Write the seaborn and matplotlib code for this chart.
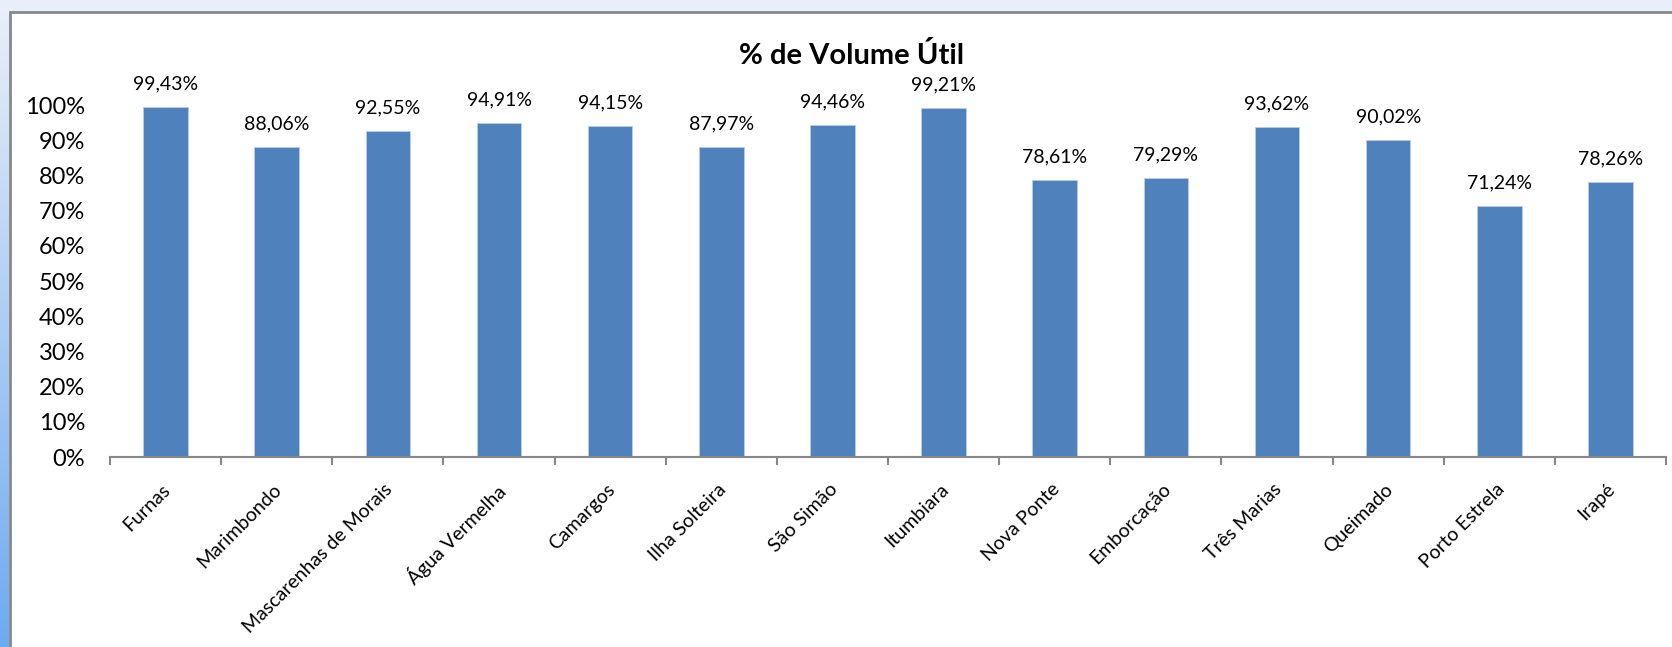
import numpy as np
import pandas as pd
import matplotlib
matplotlib.use("Agg")
import matplotlib.pyplot as plt
import matplotlib.patches as mpatches
from matplotlib.ticker import FuncFormatter, FixedLocator
import seaborn as sns

usinas = ["Furnas", "Marimbondo", "Mascarenhas de Morais", "Água Vermelha",
          "Camargos", "Ilha Solteira", "São Simão", "Itumbiara", "Nova Ponte",
          "Emborcação", "Três Marias", "Queimado", "Porto Estrela", "Irapé"]
volume = [99.43, 88.06, 92.55, 94.91, 94.15, 87.97, 94.46, 99.21, 78.61,
          79.29, 93.62, 90.02, 71.24, 78.26]

df = pd.DataFrame({"usina": usinas, "volume": volume})

sns.set_style("white")
plt.rcParams["font.family"] = ["Lato", "DejaVu Sans"]
plt.rcParams["text.color"] = "black"

W, H = 1672, 647
fig = plt.figure(figsize=(W / 100, H / 100), dpi=100)
fig.patch.set_facecolor("#E9EFFA")

# white chart area with gray frame
panel = mpatches.Rectangle((9.5 / W, -0.05), 1.1, 1 - 11.5 / H + 0.05,
                           transform=fig.transFigure, facecolor="white",
                           edgecolor="#878787", linewidth=2, zorder=-5)
fig.patches.append(panel)

# left gradient strip
strip = fig.add_axes([0, 0, 8.5 / W, 1 - 12 / H])
grad = np.linspace(0, 1, 256).reshape(-1, 1)
cmap = matplotlib.colors.LinearSegmentedColormap.from_list("s", ["#E8EEFA", "#6EAAF0"])
strip.imshow(grad, aspect="auto", cmap=cmap, extent=[0, 1, 0, 1], origin="upper")
strip.axis("off")

ax = fig.add_axes([110 / W, 1 - 457 / H, (1666 - 110) / W, (457 - 105) / H])
ax.set_facecolor("none")
sns.barplot(data=df, x="usina", y="volume", color="#4F81BD", width=0.4,
            saturation=1, edgecolor="#B9CDE5", linewidth=0.6, ax=ax)

for i, v in enumerate(volume):
    ax.annotate(f"{v:.2f}%".replace(".", ","), (i, v), xytext=(0, 10.5),
                textcoords="offset points", ha="center", va="bottom",
                fontsize=14, color="black")

ax.set_xlim(-0.5, len(usinas) - 0.5)
ax.set_ylim(0, 100)
ax.set_yticks(np.arange(0, 101, 10))
ax.yaxis.set_major_formatter(FuncFormatter(lambda v, p: f"{v:.0f}%"))
ax.tick_params(axis="y", length=0, labelsize=17, pad=18, labelcolor="black")

ax.set_xticks(range(len(usinas)))
ax.set_xticklabels(usinas, rotation=45, ha="right", rotation_mode="anchor",
                   fontsize=14, color="black")
ax.tick_params(axis="x", which="major", length=0, pad=17)
ax.xaxis.set_minor_locator(FixedLocator(np.arange(-0.5, len(usinas), 1)))
ax.tick_params(axis="x", which="minor", length=6, width=1.5, color="#878787",
               direction="out", bottom=True)
for lab in ax.get_xticklabels():
    lab.set_transform(lab.get_transform() +
                      matplotlib.transforms.ScaledTranslation(-4 / 100, 0, fig.dpi_scale_trans))

for s in ["top", "right", "left"]:
    ax.spines[s].set_visible(False)
ax.spines["bottom"].set_color("#878787")
ax.spines["bottom"].set_linewidth(1.5)
ax.set_xlabel("")
ax.set_ylabel("")

fig.text(852 / W, 1 - 55 / H, "% de Volume Útil", ha="center", va="center",
         fontsize=21, fontweight="bold", color="black")

fig.savefig("out.png", dpi=100, facecolor=fig.get_facecolor())
